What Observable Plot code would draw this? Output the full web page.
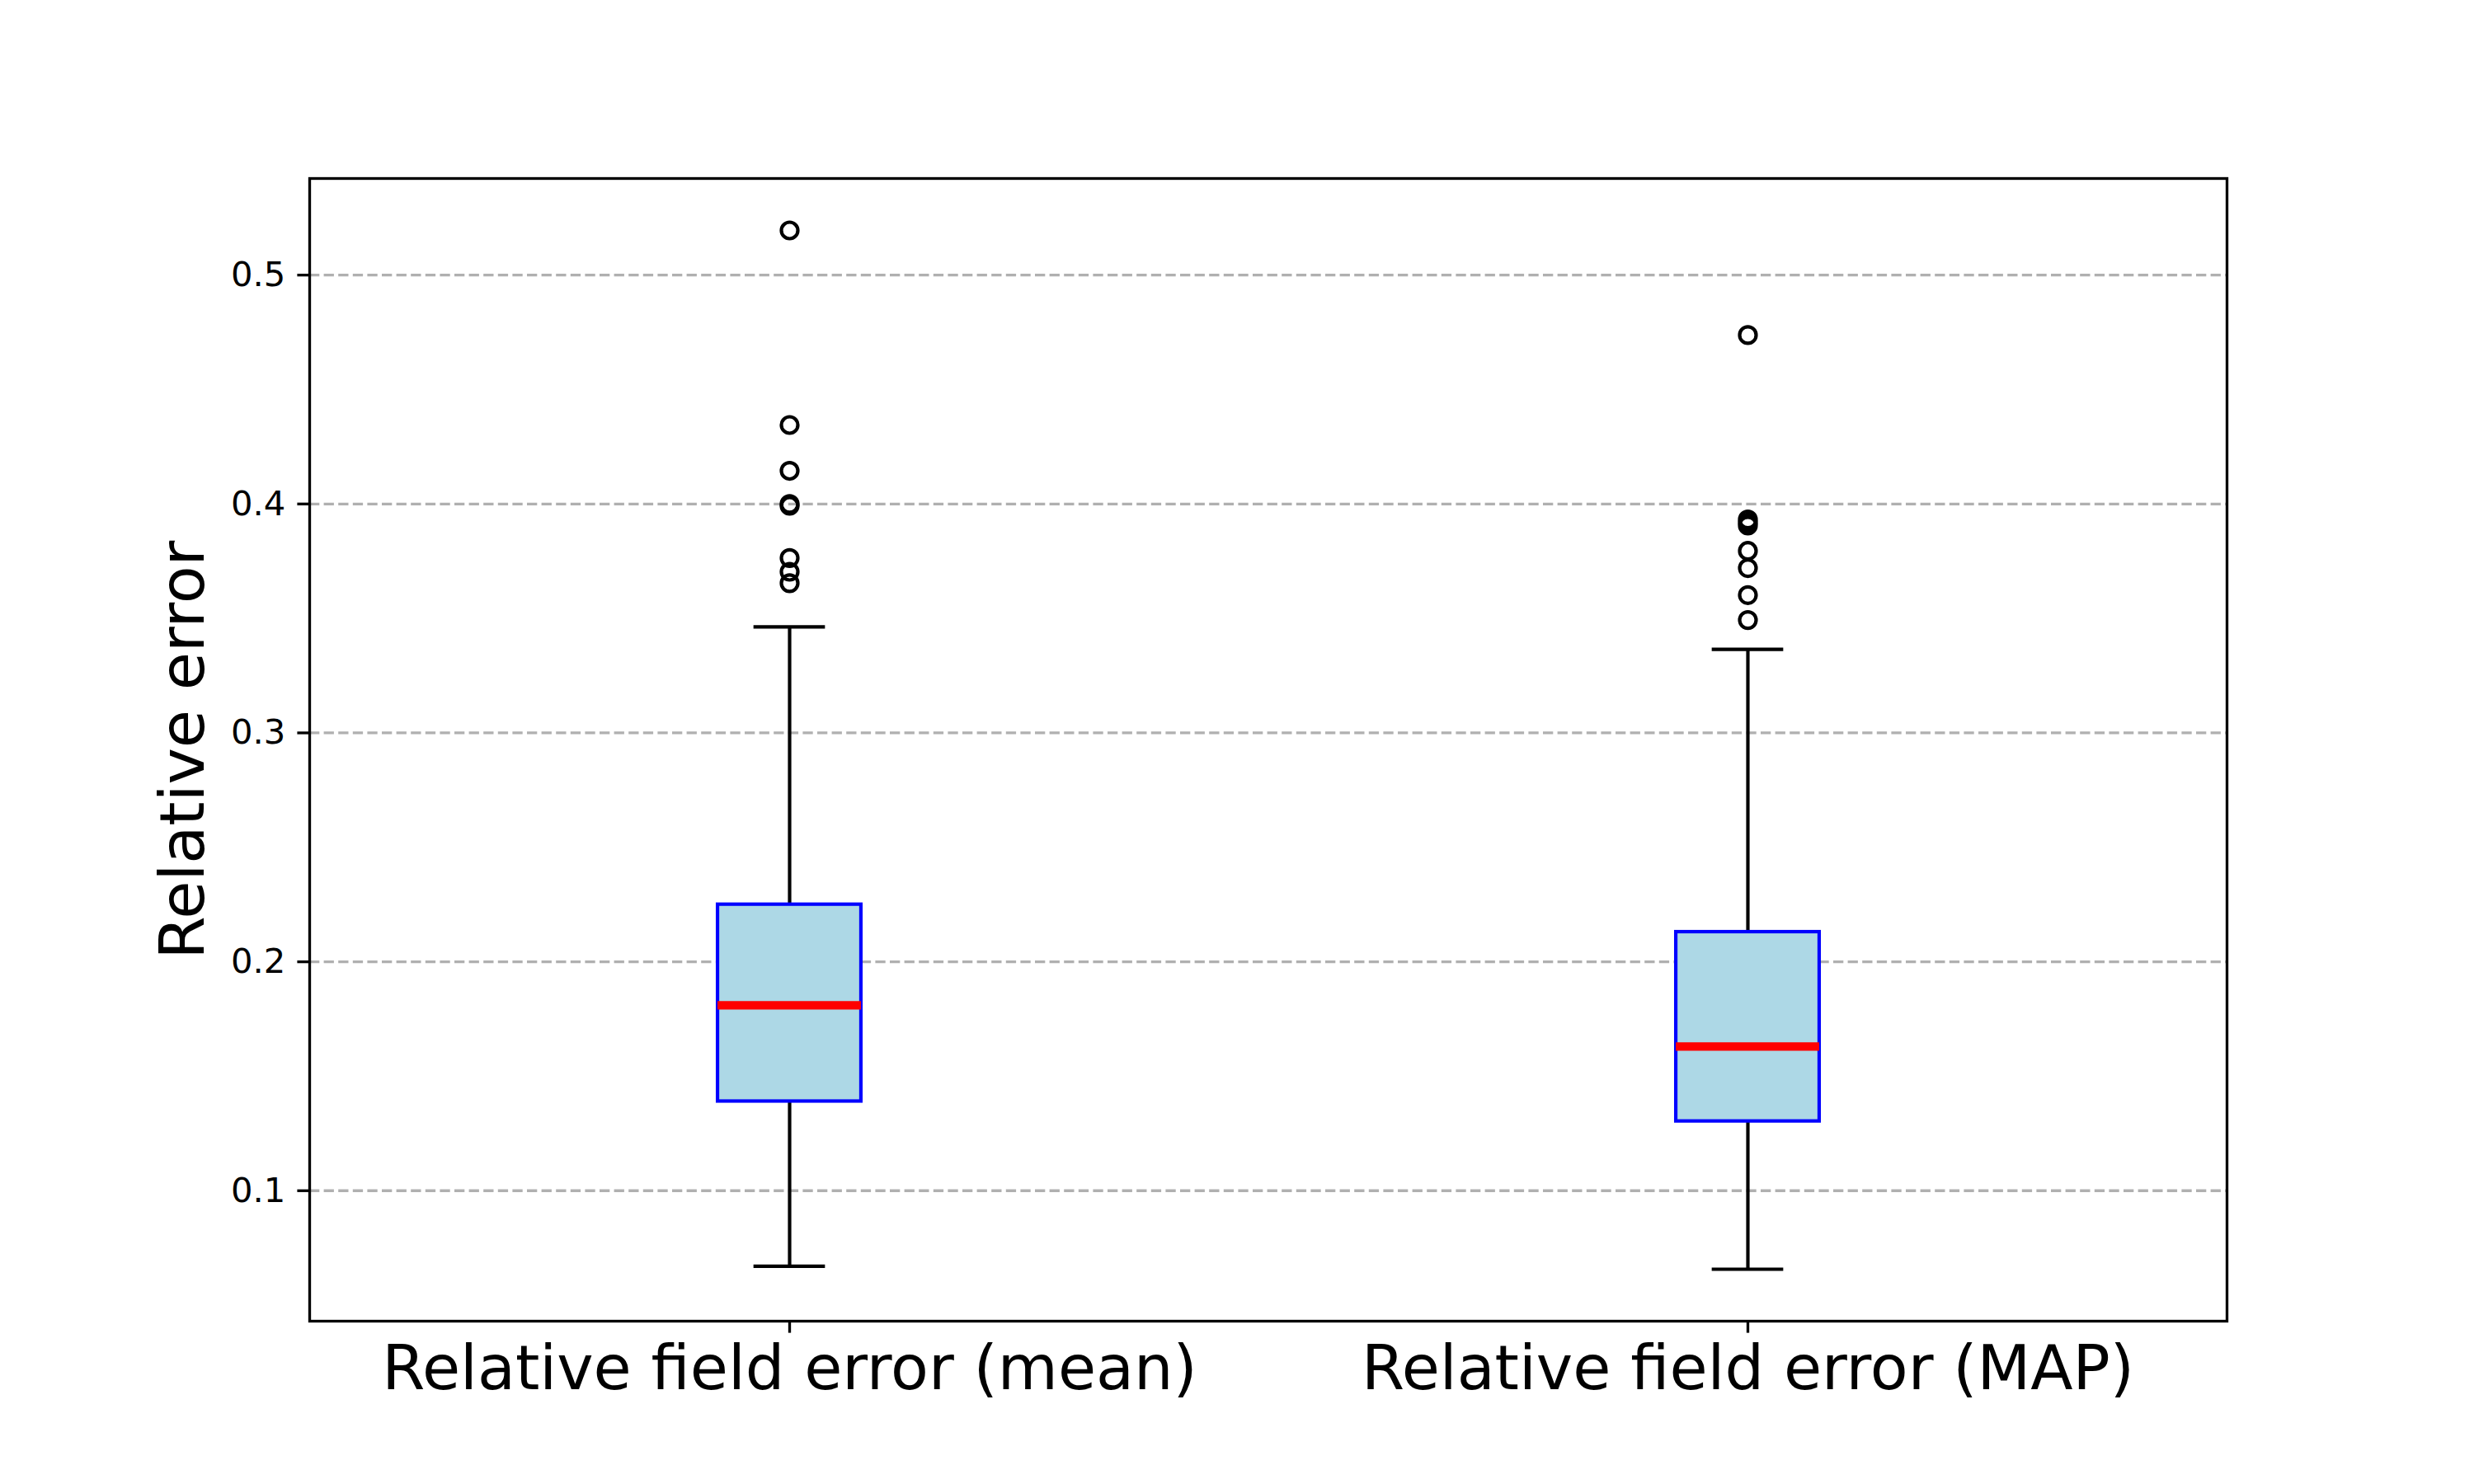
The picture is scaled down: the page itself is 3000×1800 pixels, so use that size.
<!DOCTYPE html>
<html>
<head>
<meta charset="utf-8">
<script src="https://cdn.jsdelivr.net/npm/d3@7"></script>
<script src="https://cdn.jsdelivr.net/npm/@observablehq/plot@0.6"></script>
<style>
  html, body { margin: 0; padding: 0; background: #fff; }
  #chart { width: 3000px; height: 1800px; }
</style>
</head>
<body>
<div id="chart"></div>
<script>
// ---- data ----
const categories = ["Relative field error (mean)", "Relative field error (MAP)"];
const whiskerLow  = [0.0670, 0.0657];
const q1          = [0.1390, 0.1303];
const median      = [0.1810, 0.1630];
const q3          = [0.2250, 0.2130];
const whiskerHigh = [0.3463, 0.3365];
const outliersMean = [0.5195, 0.4345, 0.4145, 0.4000, 0.3992, 0.3764, 0.3704, 0.3654];
const outliersMAP  = [0.4738, 0.3932, 0.3919, 0.3906, 0.3795, 0.3720, 0.3602, 0.3493];
const yTicks = [0.1, 0.2, 0.3, 0.4, 0.5];
const yLabel = "Relative error";

// ---- tables built from the arrays ----
const boxes = categories.map((c, i) => ({
  cat: c, low: whiskerLow[i], q1: q1[i], med: median[i], q3: q3[i], high: whiskerHigh[i]
}));
const fliers = [
  ...outliersMean.map(v => ({cat: categories[0], v})),
  ...outliersMAP.map(v => ({cat: categories[1], v}))
];

// ---- layout ----
const W = 3000, H = 1800;
const mL = 375, mR = 300, mT = 216, mB = 198;
const band = (W - mL - mR) / categories.length;
const boxInset = band * (1 - 0.15) / 2;
const capInset = band * (1 - 0.075) / 2;
const lw = 4.17;          // 1pt @300dpi
const thin = 3.33;        // 0.8pt

// y extent like matplotlib autoscale (5% margins)
const allVals = [...whiskerLow, ...whiskerHigh, ...outliersMean, ...outliersMAP];
const lo = d3.min(allVals), hi = d3.max(allVals);
const pad = (hi - lo) * 0.05;

const font = "DejaVu Sans";

const chart = Plot.plot({
  width: W, height: H,
  marginLeft: mL, marginRight: mR, marginTop: mT, marginBottom: mB,
  style: {fontFamily: font, background: "#fff", color: "black"},
  x: {type: "band", domain: categories, padding: 0},
  y: {domain: [lo - pad, hi + pad]},
  marks: [
    Plot.gridY(yTicks, {stroke: "#b0b0b0", strokeOpacity: 1, strokeWidth: thin, strokeDasharray: "12.3,5.3"}),
    Plot.ruleX(boxes, {x: "cat", y1: "q3", y2: "high", stroke: "black", strokeWidth: lw}),
    Plot.ruleX(boxes, {x: "cat", y1: "low", y2: "q1", stroke: "black", strokeWidth: lw}),
    Plot.tickY(boxes, {x: "cat", y: "high", stroke: "black", strokeWidth: lw, insetLeft: capInset, insetRight: capInset}),
    Plot.tickY(boxes, {x: "cat", y: "low", stroke: "black", strokeWidth: lw, insetLeft: capInset, insetRight: capInset}),
    Plot.barY(boxes, {x: "cat", y1: "q1", y2: "q3", fill: "#add8e6", stroke: "blue", strokeWidth: lw, insetLeft: boxInset, insetRight: boxInset}),
    Plot.tickY(boxes, {x: "cat", y: "med", stroke: "red", strokeWidth: 10.4, insetLeft: boxInset, insetRight: boxInset}),
    Plot.dot(fliers, {x: "cat", y: "v", r: 10, stroke: "black", strokeWidth: 4.2, fill: "none"}),
    Plot.frame({stroke: "black", strokeWidth: thin}),
    Plot.axisY(yTicks, {tickFormat: d3.format(".1f"), tickSize: 14.6, tickPadding: 14.6, fontSize: 41.7, strokeWidth: thin, label: null}),
    Plot.axisX({tickSize: 14.6, tickPadding: 14.6, fontSize: 75, strokeWidth: thin, label: null}),
    Plot.text([yLabel], {text: d => d, frameAnchor: "left", textAnchor: "middle", dx: -153, rotate: -90, fontSize: 75, fill: "black"})
  ]
});

document.getElementById("chart").appendChild(chart);
</script>
</body>
</html>
